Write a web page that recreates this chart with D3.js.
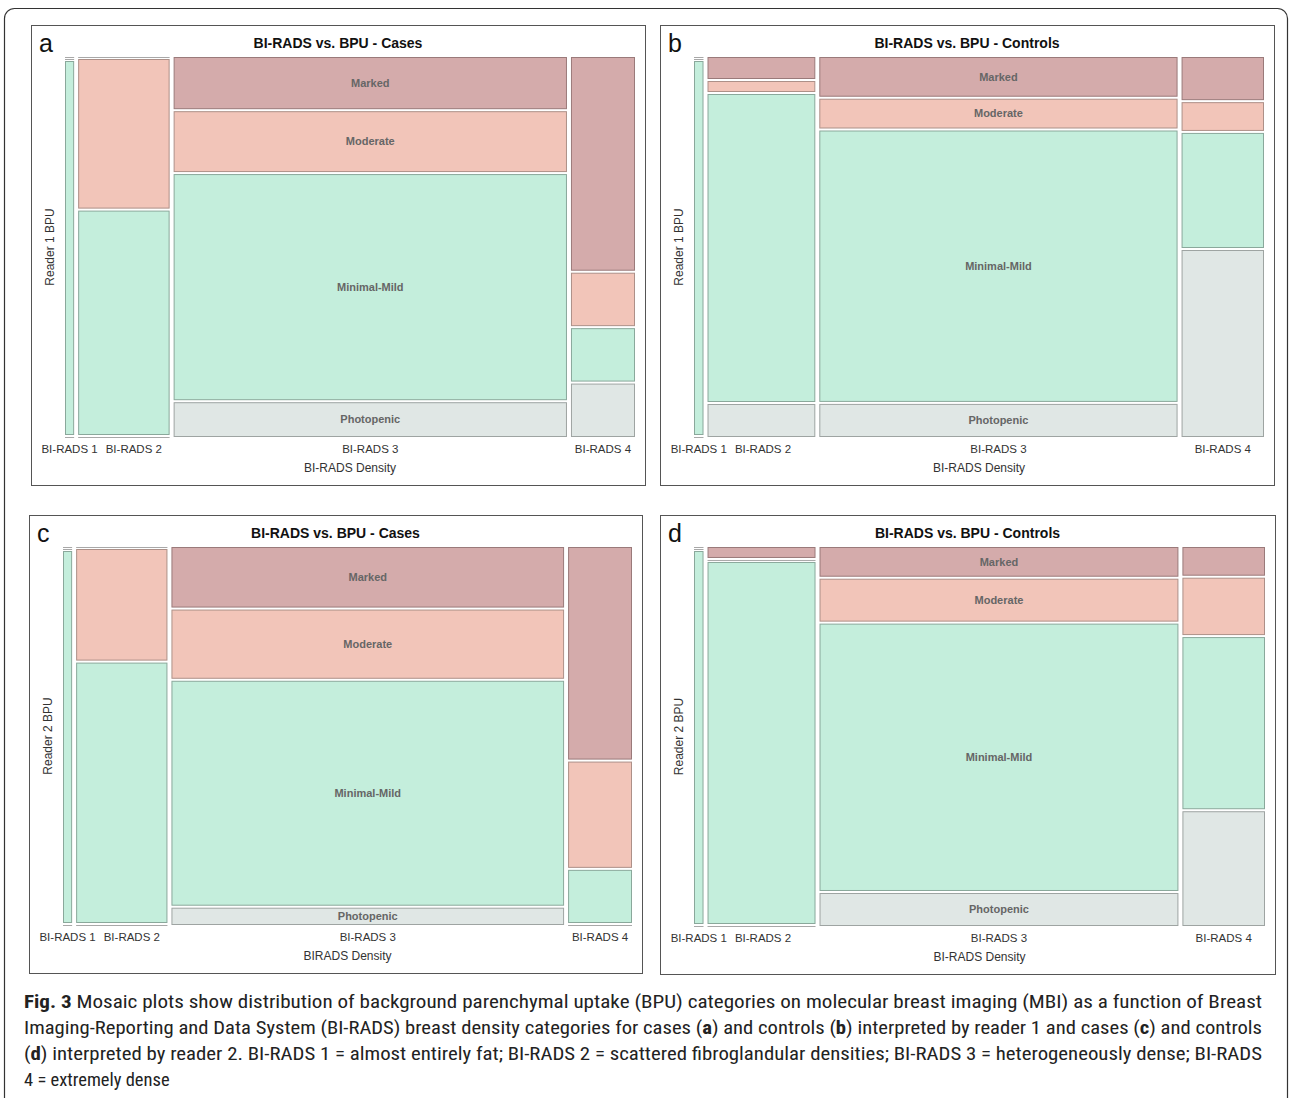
<!DOCTYPE html>
<html>
<head>
<meta charset="utf-8">
<script src="https://cdn.jsdelivr.net/npm/d3@7"></script>
<style>
    body { margin: 0; background: #fff; }
    svg text { font-family: "Liberation Sans", Arial, sans-serif; }
    .panel-box { fill: #fff; stroke: #555; stroke-width: 1; }
    .panel-title { font-size: 14px; font-weight: bold; fill: #111; text-anchor: middle; }
    .panel-letter { font-size: 25px; fill: #111; }
    .tick-label { font-size: 11.5px; fill: #333; text-anchor: middle; }
    .axis-label { font-size: 12px; fill: #333; text-anchor: middle; }
    .cell-label { font-size: 11px; font-weight: bold; fill: #666; text-anchor: middle; }
    .caption { font-family: "Liberation Sans Narrow", "Roboto Condensed", "Arial Narrow", sans-serif; font-size: 18.5px; fill: #222; }
</style>
</head>
<body>
<div id="chart"></div>
<script>
    // categories
    const densityCats = ["BI-RADS 1", "BI-RADS 2", "BI-RADS 3", "BI-RADS 4"];
    const bpuCats = ["Marked", "Moderate", "Minimal-Mild", "Photopenic"];

    // counts [density][bpu]
    const casesReader1 = [[0, 0, 1, 0], [0, 4, 6, 0], [6, 7, 26, 4], [4, 1, 1, 1]];
    const controlsReader1 = [[0, 0, 3, 0], [2, 1, 28, 3], [12, 9, 82, 10], [3, 2, 8, 13]];
    const casesReader2 = [[0, 0, 1, 0], [0, 3, 7, 0], [7, 8, 26, 2], [4, 2, 1, 0]];
    const controlsReader2 = [[0, 0, 3, 0], [1, 0, 33, 0], [9, 13, 81, 10], [2, 4, 12, 8]];

    const panelLetters = ["a", "b", "c", "d"];
    const panelTitles = ["BI-RADS vs. BPU - Cases", "BI-RADS vs. BPU - Controls",
        "BI-RADS vs. BPU - Cases", "BI-RADS vs. BPU - Controls"];
    const yLabels = ["Reader 1 BPU", "Reader 1 BPU", "Reader 2 BPU", "Reader 2 BPU"];
    const xLabels = ["BI-RADS Density", "BI-RADS Density", "BIRADS Density", "BI-RADS Density"];
    const panelData = [casesReader1, controlsReader1, casesReader2, controlsReader2];

    const captionLines = [
        [["Fig. 3", true], [" Mosaic plots show distribution of background parenchymal uptake (BPU) categories on molecular breast imaging (MBI) as a function of Breast", false]],
        [["Imaging-Reporting and Data System (BI-RADS) breast density categories for cases (", false], ["a", true], [") and controls (", false], ["b", true], [") interpreted by reader 1 and cases (", false], ["c", true], [") and controls", false]],
        [["(", false], ["d", true], [") interpreted by reader 2. BI-RADS 1 = almost entirely fat; BI-RADS 2 = scattered fibroglandular densities; BI-RADS 3 = heterogeneously dense; BI-RADS", false]],
        [["4 = extremely dense", false]]
    ];

    const fills = {"Marked": "#d4abab", "Moderate": "#f2c5b9", "Minimal-Mild": "#c4eedc", "Photopenic": "#e0e7e5"};
    const strokes = {"Marked": "#9a7a7a", "Moderate": "#ad9088", "Minimal-Mild": "#8aa89b", "Photopenic": "#9ea4a2"};

    const width = 1292, height = 1098;

    // panel boxes (page coordinates)
    const boxes = [
        {x: 31, y: 25, w: 614, h: 460},
        {x: 660, y: 25, w: 614, h: 460},
        {x: 29, y: 515, w: 613, h: 458},
        {x: 660, y: 515, w: 615, h: 459}
    ];
    const margin = {top: 32, left: 34, right: 10, bottom: 48},
        colGap = 4,
        rowGap = 2;

    const svg = d3.select("#chart").append("svg")
        .attr("width", width)
        .attr("height", height);

    // outer frame with rounded top corners
    svg.append("rect")
        .attr("x", 4.5).attr("y", 8.5)
        .attr("width", 1283).attr("height", 1200)
        .attr("rx", 10)
        .attr("fill", "none")
        .attr("stroke", "#333")
        .attr("stroke-width", 1.2);

    function mosaic(i) {
        let box = boxes[i],
            data = panelData[i],
            plotW = box.w - margin.left - margin.right,
            plotH = box.h - margin.top - margin.bottom,
            colTotals = data.map(d => d3.sum(d)),
            xScale = d3.scaleLinear().domain([0, d3.sum(colTotals)]).range([0, plotW - colGap * (densityCats.length - 1)]);

        let g = svg.append("g").attr("transform", `translate(${box.x},${box.y})`);

        g.append("rect").classed("panel-box", true)
            .attr("x", 0.5).attr("y", 0.5)
            .attr("width", box.w).attr("height", box.h);

        g.append("text").classed("panel-letter", true)
            .attr("x", 8).attr("y", 27)
            .text(panelLetters[i]);

        g.append("text").classed("panel-title", true)
            .attr("x", box.w / 2).attr("y", 23)
            .text(panelTitles[i]);

        let plot = g.append("g").attr("transform", `translate(${margin.left},${margin.top})`);

        // y axis label
        g.append("text").classed("axis-label", true)
            .attr("transform", `translate(${margin.left - 11},${margin.top + plotH / 2}) rotate(-90)`)
            .text(yLabels[i]);

        // x axis label
        g.append("text").classed("axis-label", true)
            .attr("x", margin.left + plotW / 2)
            .attr("y", box.h - 13)
            .text(xLabels[i]);

        let x0 = 0, tickPos = [];
        data.forEach((col, ci) => {
            let cw = xScale(colTotals[ci]),
                yScale = d3.scaleLinear().domain([0, colTotals[ci]]).range([0, plotH - rowGap * (bpuCats.length - 1)]),
                y0 = 0;
            col.forEach((v, ri) => {
                let h = yScale(v), cat = bpuCats[ri];
                if (v === 0) {
                    plot.append("line")
                        .attr("x1", x0).attr("x2", x0 + cw)
                        .attr("y1", y0 + 0.5).attr("y2", y0 + 0.5)
                        .attr("stroke", "#a8a8a8")
                        .attr("stroke-width", 1);
                } else {
                    plot.append("rect")
                        .attr("x", x0 + 0.5).attr("y", y0 + 0.5)
                        .attr("width", cw - 1).attr("height", h - 1)
                        .attr("fill", fills[cat])
                        .attr("stroke", strokes[cat])
                        .attr("stroke-width", 1);
                    // labels only in the widest column
                    if (ci === 2) {
                        plot.append("text").classed("cell-label", true)
                            .attr("x", x0 + cw / 2)
                            .attr("y", y0 + h / 2)
                            .attr("dy", "0.35em")
                            .text(cat);
                    }
                }
                y0 += h + rowGap;
            });
            tickPos.push(x0 + cw / 2);
            x0 += cw + colGap;
        });

        // tick labels, pushed right when they would overlap
        let ticks = plot.selectAll(".tick-label")
            .data(densityCats)
            .join("text")
            .classed("tick-label", true)
            .attr("x", (d, k) => tickPos[k])
            .attr("y", plotH + 16)
            .text(d => d);

        let lastRight = -Infinity;
        ticks.each(function (d, k) {
            let w = this.getComputedTextLength(),
                left = tickPos[k] - w / 2;
            if (left < lastRight + 8) left = lastRight + 8;
            d3.select(this).attr("x", left + w / 2);
            lastRight = left + w;
        });
    }

    d3.range(4).forEach(mosaic);

    // caption
    let caption = svg.append("g");
    captionLines.forEach((line, li) => {
        let t = caption.append("text").classed("caption", true)
            .attr("x", 24)
            .attr("y", 1008 + li * 26);
        if (li < 3) t.attr("textLength", 1238).attr("lengthAdjust", "spacingAndGlyphs");
        line.forEach(([s, b]) => {
            t.append("tspan")
                .attr("font-weight", b ? "bold" : null)
                .text(s);
        });
    });
</script>
</body>
</html>
